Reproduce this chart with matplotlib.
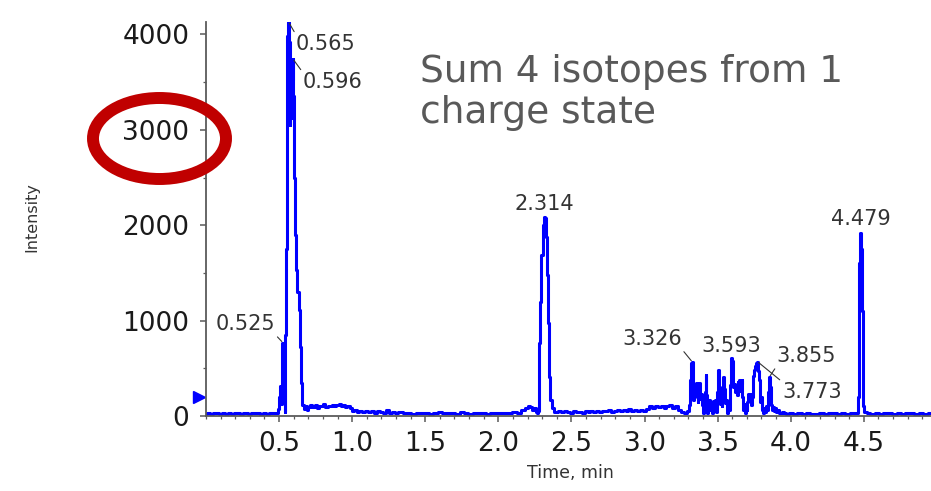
import numpy as np
import matplotlib
matplotlib.use("Agg")
import matplotlib.pyplot as plt
from matplotlib.patches import Ellipse
from matplotlib.ticker import MultipleLocator

# Extracted ion chromatogram: time (min) and intensity (counts)
tempo = [
    0.00, 0.02, 0.04, 0.06, 0.08, 0.10, 0.12, 0.14, 0.16, 0.18, 0.20, 0.22, 0.24,
    0.26, 0.28, 0.30, 0.32, 0.34, 0.36, 0.38, 0.40, 0.42, 0.44, 0.46, 0.48,
    0.49, 0.50, 0.505, 0.51, 0.515, 0.52, 0.525, 0.53, 0.535, 0.54, 0.545, 0.55,
    0.555, 0.56, 0.565, 0.57, 0.575, 0.58, 0.585, 0.59, 0.596, 0.60, 0.605, 0.612,
    0.62, 0.63, 0.637, 0.645, 0.655, 0.665,
    0.675, 0.685, 0.695, 0.705, 0.72, 0.735, 0.75, 0.765, 0.78, 0.795, 0.81, 0.825,
    0.84, 0.855, 0.87, 0.885, 0.90, 0.915, 0.93, 0.945, 0.96, 0.975, 0.99, 1.005,
    1.02, 1.04, 1.06, 1.08, 1.10, 1.12, 1.14, 1.16, 1.18, 1.20, 1.22, 1.24, 1.26,
    1.28, 1.30, 1.33, 1.36, 1.39, 1.42, 1.45, 1.48, 1.51, 1.54, 1.57, 1.60, 1.63,
    1.66, 1.69, 1.72, 1.75, 1.78, 1.81, 1.84, 1.87, 1.90, 1.93, 1.96, 1.99, 2.02,
    2.05, 2.08, 2.11, 2.14, 2.17, 2.19, 2.21, 2.22, 2.235, 2.25, 2.265, 2.27,
    2.278, 2.283, 2.29, 2.30, 2.307, 2.314, 2.322, 2.33, 2.338, 2.345, 2.35, 2.358,
    2.37, 2.385, 2.40, 2.42, 2.44, 2.46, 2.48, 2.50, 2.52, 2.54, 2.56, 2.58, 2.60,
    2.62, 2.64, 2.66, 2.68, 2.70, 2.72, 2.74, 2.76, 2.78, 2.80, 2.82, 2.84, 2.86,
    2.88, 2.90, 2.92, 2.94, 2.96, 2.98, 3.00, 3.02, 3.04, 3.06, 3.08, 3.10, 3.12,
    3.14, 3.16, 3.18, 3.20, 3.22, 3.24, 3.26, 3.28,
    3.30, 3.306, 3.312, 3.318, 3.326, 3.332, 3.338, 3.344, 3.35, 3.355,
    3.36, 3.366, 3.371, 3.377, 3.383, 3.389, 3.395, 3.40, 3.405, 3.41,
    3.416, 3.421, 3.427, 3.433, 3.439, 3.446, 3.452, 3.459, 3.465, 3.472,
    3.478, 3.485, 3.491, 3.499, 3.505, 3.511, 3.519, 3.525, 3.53, 3.536,
    3.541, 3.547, 3.553, 3.56, 3.566, 3.573, 3.579, 3.587, 3.593, 3.599,
    3.605, 3.61, 3.616, 3.622, 3.628, 3.634, 3.639, 3.644, 3.65, 3.656,
    3.662, 3.667, 3.673, 3.678, 3.684, 3.69, 3.696, 3.701, 3.707, 3.713,
    3.718, 3.724, 3.73, 3.736, 3.742, 3.747, 3.753, 3.76, 3.766, 3.773,
    3.778, 3.784, 3.79, 3.796, 3.80, 3.806, 3.812, 3.818, 3.826, 3.833,
    3.84, 3.846, 3.851, 3.855, 3.86, 3.866, 3.872, 3.88, 3.888, 3.896,
    3.905, 3.915, 3.93, 3.945,
    3.96, 3.98, 4.00, 4.03,
    4.06, 4.09, 4.12, 4.15, 4.18, 4.21, 4.24, 4.27, 4.30, 4.33, 4.36, 4.39, 4.42,
    4.44, 4.455, 4.462, 4.467, 4.472, 4.479, 4.485, 4.49, 4.495, 4.50, 4.51, 4.53,
    4.56, 4.59, 4.62, 4.65, 4.68, 4.71, 4.74, 4.77, 4.80, 4.83, 4.86, 4.89, 4.92,
    4.96,
]
intensidade = [
    25, 30, 22, 28, 35, 24, 30, 26, 33, 22, 28, 31, 25,
    30, 36, 24, 29, 27, 32, 23, 30, 26, 34, 27, 31,
    30, 70, 200, 310, 130, 520, 770, 690, 280, 45, 850, 1750,
    3500, 3980, 4130, 3920, 3050, 3350, 3120, 3520, 3740, 3350, 2500, 1900,
    1530, 1300, 1110, 720, 345, 115,
    70, 110, 60, 95, 115, 90, 120, 85, 110, 100, 125, 95,
    110, 105, 120, 100, 115, 130, 105, 120, 95, 110, 80, 50,
    60, 45, 55, 40, 50, 38, 48, 35, 55, 40, 30, 60, 35,
    40, 30, 38, 28, 35, 25, 33, 27, 36, 24, 30, 40, 29,
    28, 34, 26, 38, 30, 25, 35, 28, 32, 24, 36, 30, 27,
    34, 29, 38, 30, 60, 80, 100, 90, 60, 85, 40, 35,
    50, 760, 1200, 1690, 2000, 2090, 2080, 1880, 1480, 980, 410, 170,
    80, 45, 45, 50, 40, 55, 45, 35, 50, 40, 45, 35, 50,
    45, 55, 40, 50, 45, 55, 50, 60, 45, 55, 60, 50, 65,
    55, 70, 55, 60, 50, 65, 55, 75, 100, 85, 110, 90, 105,
    80, 100, 115, 85, 105, 60, 40, 35,
    55, 120, 380, 560, 568, 520, 168, 240, 300, 345,
    200, 150, 250, 345, 180, 230, 120, 60, 30, 80,
    250, 430, 220, 30, 100, 170, 60, 140, 30, 160,
    80, 170, 40, 250, 482, 300, 130, 170, 110, 240,
    411, 280, 140, 170, 30, 160, 60, 320, 604, 580,
    330, 300, 340, 250, 330, 220, 360, 300, 380, 260,
    340, 380, 200, 60, 130, 30, 120, 60, 150, 230,
    170, 230, 120, 200, 330, 420, 480, 520, 555, 570,
    470, 380, 250, 150, 200, 60, 30, 80, 40, 100,
    60, 250, 400, 411, 300, 120, 60, 90, 50, 80,
    40, 60, 35, 40,
    30, 25, 28, 22,
    30, 24, 32, 26, 22, 30, 25, 33, 27, 24, 31, 26, 29,
    30, 35, 200, 900, 1600, 1916, 1750, 1100, 380, 100, 45, 30,
    26, 32, 24, 30, 27, 22, 31, 25, 29, 34, 26, 30, 24,
    28,
]

# Peak labels: retention time, label text position (time, intensity), alignment, leader anchor
picos = [0.565, 0.596, 0.525, 2.314, 4.479, 3.326, 3.593, 3.855, 3.773]
texto_x = [0.614, 0.662, 0.471, 2.314, 4.479, 3.254, 3.593, 3.904, 3.944]
texto_y = [3832, 3434, 900, 2160, 2000, 745, 670, 565, 188]
alinhamento = ['left', 'left', 'right', 'center', 'center', 'right', 'center', 'left', 'left']
com_linha = [True, True, True, False, False, True, False, True, True]
ancora = [(0, 1), (0, 1), (1, 0), None, None, (1, 0), None, (0, 0), (0, 1)]

tempo = np.array(tempo)
intensidade = np.array(intensidade)

fig = plt.figure(figsize=(9.31, 4.91), dpi=100)
ax = fig.add_axes([206 / 931, 75 / 491, 725 / 931, 394 / 491])

ax.plot(tempo, intensidade, color='#0000ff', lw=2.2, drawstyle='steps-mid')

ax.set_xlim(0, 4.96)
ax.set_ylim(0, 4130)

for lado in ['top', 'right']:
    ax.spines[lado].set_visible(False)
for lado in ['left', 'bottom']:
    ax.spines[lado].set_color('#5a5a5a')
    ax.spines[lado].set_linewidth(1.3)

ax.set_xticks([0.5, 1.0, 1.5, 2.0, 2.5, 3.0, 3.5, 4.0, 4.5])
ax.set_xticklabels(['0.5', '1.0', '1.5', '2.0', '2.5', '3.0', '3.5', '4.0', '4.5'])
ax.xaxis.set_minor_locator(MultipleLocator(0.1))
ax.set_yticks([0, 1000, 2000, 3000, 4000])
ax.yaxis.set_minor_locator(MultipleLocator(500))
ax.tick_params(axis='both', which='major', labelsize=19, length=4, width=1.1,
               color='#5a5a5a', labelcolor='#1a1a1a')
ax.tick_params(axis='both', which='minor', length=2.5, width=0.9, color='#5a5a5a')
ax.tick_params(axis='x', which='major', pad=7)
ax.tick_params(axis='y', which='major', pad=8)

fig.text(32 / 931, 1 - 217 / 491, 'Intensity', rotation=90, fontsize=11.5,
         color='#333333', ha='center', va='center')
fig.text(570 / 931, 1 - 473 / 491, 'Time, min', fontsize=12.5,
         color='#333333', ha='center', va='center')

# baseline marker to the left of the intensity axis
ax.plot([-0.045], [200], marker='>', markersize=8, color='#0000ff', clip_on=False)

for t, tx, ty, ha, linha, rel in zip(picos, texto_x, texto_y, alinhamento, com_linha, ancora):
    y = intensidade[np.argmin(np.abs(tempo - t))]
    rotulo = f'{t:.3f}'
    if linha:
        ax.annotate(rotulo, xy=(t, y), xytext=(tx, ty), ha=ha, va='baseline',
                    fontsize=15, color='#333333',
                    arrowprops=dict(arrowstyle='-', color='#333333', lw=0.8,
                                    relpos=rel, shrinkA=0, shrinkB=1))
    else:
        ax.text(tx, ty, rotulo, ha=ha, va='baseline', fontsize=15, color='#333333')

fig.text(420 / 931, 1 - 82 / 491, 'Sum 4 isotopes from 1', fontsize=27,
         color='#595959', ha='left', va='baseline')
fig.text(420 / 931, 1 - 123 / 491, 'charge state', fontsize=27,
         color='#595959', ha='left', va='baseline')

elipse = Ellipse((159.5 / 931, 1 - 138.5 / 491), 133 / 931, 81 / 491,
                 transform=fig.transFigure, fill=False, edgecolor='#c00000',
                 lw=8.6, zorder=10)
fig.add_artist(elipse)

fig.savefig('out.png', dpi=100)
